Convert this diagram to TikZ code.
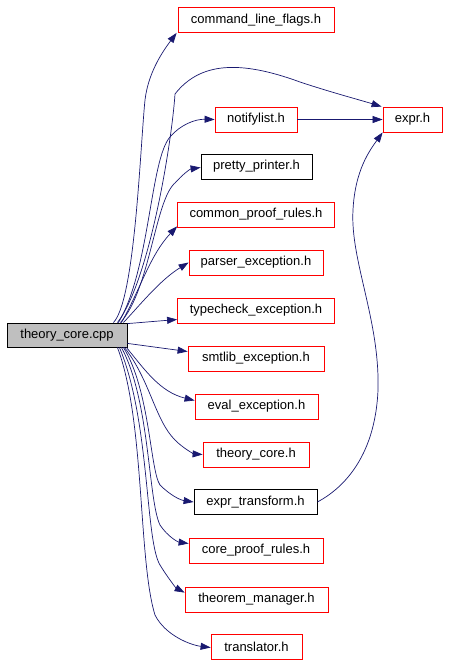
\documentclass[tikz,border=0pt]{standalone}
\usepackage{fontspec}
\setmainfont{Liberation Sans}
\usetikzlibrary{arrows.meta,calc}
\definecolor{edgeblue}{HTML}{191970}
\definecolor{boxgray}{HTML}{BFBFBF}
\tikzset{
  filebox/.style={draw=red, line width=0.8pt, rectangle, inner sep=0pt, minimum height=25pt, font=\fontsize{13}{15}\selectfont, fill=white},
  blackbox/.style={filebox, draw=black},
  mainbox/.style={filebox, draw=black, fill=boxgray, minimum height=24pt},
  dep/.style={draw=edgeblue, line width=0.7pt, -{Triangle[length=10pt,width=7pt]}, edgeblue},
}
\begin{document}
\begin{tikzpicture}[x=1pt,y=-1pt]
\useasboundingbox (0,0) rectangle (452,665);
\node[mainbox, minimum width=120pt] (main) at (67,335) {theory\_core.cpp};
\node[filebox, minimum width=156pt] (cmd) at (256,20) {command\_line\_flags.h};
\node[filebox, minimum width=82pt] (notify) at (256,119.5) {notifylist.h};
\node[filebox, minimum width=59pt] (expr) at (412.5,119.5) {expr.h};
\node[blackbox, minimum width=111pt] (pretty) at (256.5,166.5) {pretty\_printer.h};
\node[filebox, minimum width=157pt] (common) at (256,214.5) {common\_proof\_rules.h};
\node[filebox, minimum width=134pt] (parser) at (256,262.5) {parser\_exception.h};
\node[filebox, minimum width=157pt] (typecheck) at (256,310.5) {typecheck\_exception.h};
\node[filebox, minimum width=136pt] (smtlib) at (256,358.5) {smtlib\_exception.h};
\node[filebox, minimum width=123pt] (eval) at (256.5,406.5) {eval\_exception.h};
\node[filebox, minimum width=106pt] (tch) at (256,454.5) {theory\_core.h};
\node[blackbox, minimum width=123pt] (etr) at (255.5,502) {expr\_transform.h};
\node[filebox, minimum width=134pt] (cpr) at (256,550.5) {core\_proof\_rules.h};
\node[filebox, minimum width=143pt] (thm) at (256.5,599.5) {theorem\_manager.h};
\node[filebox, minimum width=91pt] (trans) at (256.5,646.5) {translator.h};

% edges
\draw[dep] ($(main.north east)+(-14,0)$) .. controls (135,300) and (140,150) .. (145,100) .. controls (148,75) and (160,55) .. ($(cmd.south west)+(-1,0)$);
\draw[dep] ($(main.north east)+(-10,0)$) .. controls (150,280) and (172,140) .. (175,94) .. controls (200,62) and (240,60) .. (300,82) .. controls (330,92) and (360,100) .. ($(expr.north west)+(-1,0)$);
\draw[dep] ($(main.north east)+(-9,0)$) .. controls (150,270) and (150,160) .. (170,137) .. controls (180,125) and (195,119) .. (notify.west);
\draw[dep] ($(main.north east)+(-7,0)$) .. controls (150,290) and (155,200) .. (175,183) .. controls (182,175) and (190,169) .. ($(pretty.west)+(0,1)$);
\draw[dep] ($(main.north east)+(-6,0)$) .. controls (140,290) and (150,255) .. ($(common.south west)+(0,-1)$);
\draw[dep] ($(main.north east)+(-4,0)$) .. controls (140,305) and (160,280) .. ($(parser.west)+(0,0)$);
\draw[dep] ($(main.north east)+(0,1)$) -- ($(typecheck.west)+(0,9)$);
\draw[dep] ($(main.south east)+(0,-4)$) -- ($(smtlib.west)+(0,-7)$);
\draw[dep] ($(main.south east)+(-1,0)$) .. controls (145,370) and (160,392) .. ($(eval.west)+(0,-6)$);
\draw[dep] ($(main.south east)+(-3,0)$) .. controls (150,380) and (155,420) .. (175,440) .. controls (185,450) and (195,454) .. (tch.west);
\draw[dep] ($(main.south east)+(-4,0)$) .. controls (150,390) and (150,470) .. (160,485) .. controls (170,495) and (180,500) .. (etr.west);
\draw[dep] ($(main.south east)+(-6,0)$) .. controls (150,400) and (148,500) .. (160,525) .. controls (168,537) and (178,542) .. ($(cpr.west)+(0,-7)$);
\draw[dep] ($(main.south east)+(-8,0)$) .. controls (150,420) and (145,540) .. (160,565) .. controls (168,578) and (176,588) .. ($(thm.north west)+(0,6)$);
\draw[dep] ($(main.south east)+(-10,0)$) .. controls (145,420) and (138,560) .. (155,615) .. controls (165,635) and (190,645) .. ($(trans.west)+(0,1)$);
\draw[dep] (notify.east) -- (expr.west);
\draw[dep] (etr.east) .. controls (340,490) and (375,460) .. (378,390) .. controls (380,320) and (350,260) .. (353,210) .. controls (355,170) and (370,150) .. ($(expr.south west)+(0,0)$);
\end{tikzpicture}
\end{document}
